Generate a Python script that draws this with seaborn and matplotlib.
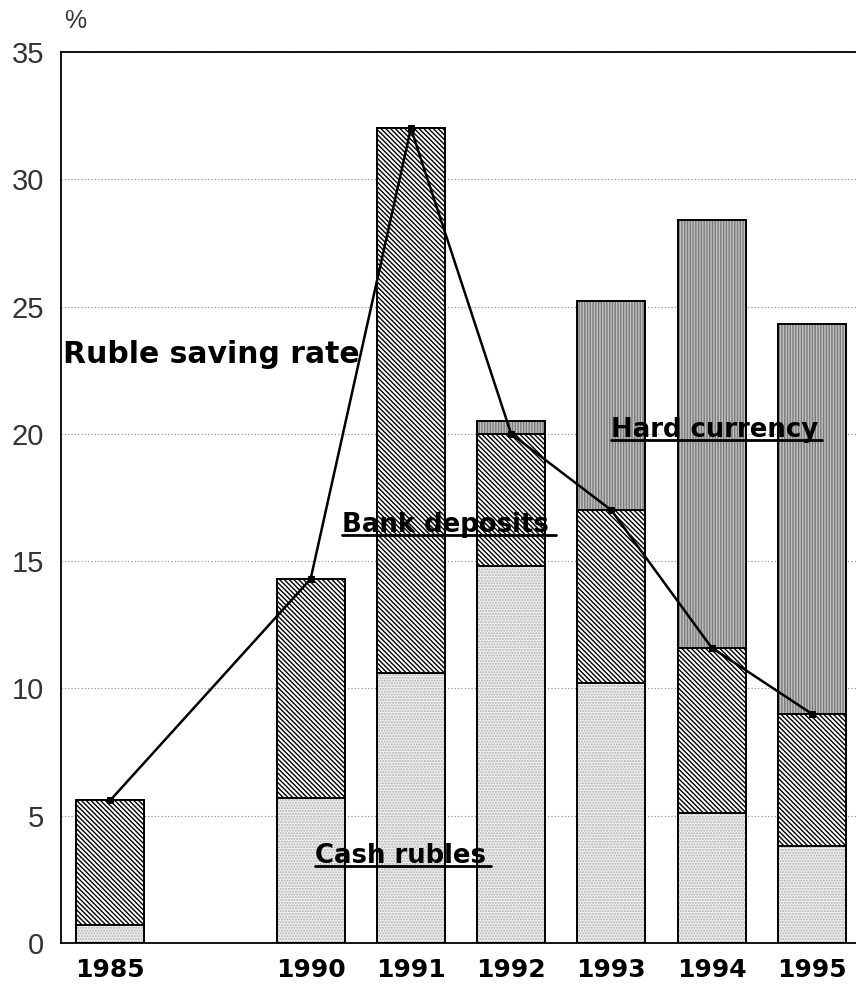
import matplotlib
matplotlib.use("Agg")
import matplotlib.pyplot as plt
import numpy as np
import seaborn as sns

# slots on the x axis; the empty one stands for the gap between 1985 and 1990
SLOTS = ["1985", "", "1990", "1991", "1992", "1993", "1994", "1995"]
YEARS = ["1985", "1990", "1991", "1992", "1993", "1994", "1995"]
cash_rubles = [0.7, 5.7, 10.6, 14.8, 10.2, 5.1, 3.8]
bank_deposits = [4.9, 8.6, 21.4, 5.2, 6.8, 6.5, 5.2]
hard_currency = [0.0, 0.0, 0.0, 0.5, 8.2, 16.8, 15.3]
ruble_saving_rate = [5.6, 14.3, 32.0, 20.0, 17.0, 11.6, 9.0]

sns.set_theme(style="white")
plt.rcParams["hatch.linewidth"] = 1.0
plt.rcParams["font.family"] = ["Liberation Sans", "DejaVu Sans"]
plt.rcParams["text.color"] = "black"

pos = np.array([SLOTS.index(y) for y in YEARS], dtype=float)
cash = np.array(cash_rubles)
dep = np.array(bank_deposits)
hard = np.array(hard_currency)


def layer(ax, heights, face, hatch, hatch_color):
    # fill + texture, then a black outline on top
    sns.barplot(x=pos, y=heights, native_scale=True, width=0.68, color=face,
                saturation=1, edgecolor=hatch_color, linewidth=0, errorbar=None, ax=ax)
    for p in ax.containers[-1]:
        p.set_hatch(hatch)
    sns.barplot(x=pos, y=heights, native_scale=True, width=0.68, color="black",
                fill=False, linewidth=1.4, errorbar=None, ax=ax)


fig = plt.figure(figsize=(8.56, 9.88), dpi=100)
ax = fig.add_axes([61 / 856, 45 / 988, 1 - 61 / 856, (943 - 52) / 988])

layer(ax, cash + dep + hard, "#c2c2c2", "||||||", "#7a7a7a")
layer(ax, cash + dep, "white", "\\" * 7, "black")
layer(ax, cash, "#f0f0f0", "......", "#b0b0b0")

sns.lineplot(x=pos, y=ruble_saving_rate, color="black", linewidth=1.8,
             marker="s", markersize=4, markeredgecolor="black", ax=ax)

ax.set_xlim(-0.49, 7.44)
ax.set_ylim(0, 35)
ax.set_yticks(np.arange(0, 36, 5))
ax.set_yticklabels([str(v) for v in range(0, 36, 5)], fontsize=21, color="#333333")
ax.set_xticks(range(len(SLOTS)))
ax.set_xticklabels(SLOTS, fontsize=18, fontweight="bold", family="DejaVu Sans", color="black")
ax.tick_params(axis="both", direction="in", length=8, width=1.2, color="black")
ax.tick_params(axis="x", length=9, pad=11)
ax.tick_params(axis="y", pad=12)
ax.yaxis.grid(True, linestyle=(0, (1, 2)), color="#888888", linewidth=0.8)
ax.set_axisbelow(True)
for side in ["left", "top", "bottom"]:
    ax.spines[side].set_color("black")
    ax.spines[side].set_linewidth(1.3)
ax.spines["right"].set_visible(False)
ax.set_xlabel("")
ax.set_ylabel("")

ax.text(-0.46, 35.75, "%", fontsize=18, color="#333333", ha="left", va="bottom", clip_on=False)

ax.text(-0.47, 22.8, "Ruble saving rate", fontsize=21.5, fontweight="bold",
        family="DejaVu Sans", ha="left", va="baseline")
notes = [("Bank deposits", 2.31, 16.15, 2.14),
         ("Hard currency", 5.0, 19.87, 2.1),
         ("Cash rubles", 2.04, 3.14, 1.76)]
for label, x, y, w in notes:
    ax.text(x, y, label, fontsize=18.7, fontweight="bold", family="DejaVu Sans",
            ha="left", va="baseline")
    ax.plot([x, x + w], [y - 0.12, y - 0.12], color="black", linewidth=2)

fig.savefig("out.png", dpi=100)
